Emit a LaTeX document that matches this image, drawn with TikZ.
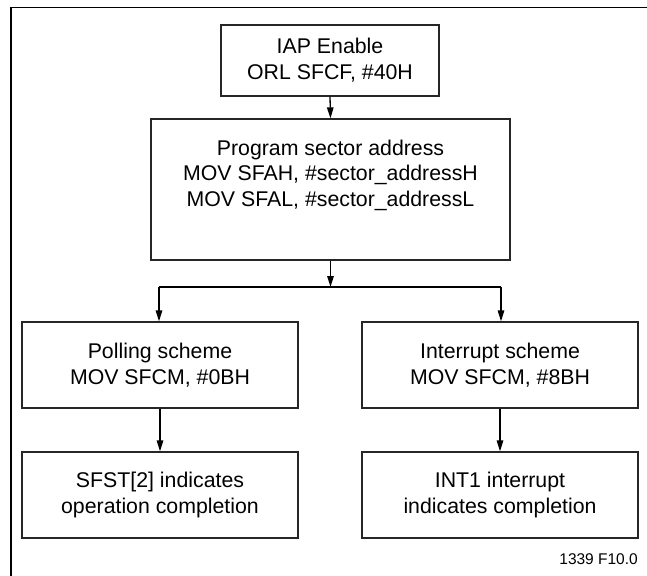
\documentclass[tikz,border=0pt]{standalone}
\usepackage{fontspec}
\setmainfont{Liberation Sans}
\usetikzlibrary{arrows.meta}
\begin{document}
\begin{tikzpicture}[x=1pt,y=-1pt,
  box/.style={draw=black!85,line width=1.3pt,inner sep=0pt,align=center,
    font=\fontsize{21.3}{25.8}\selectfont},
  arr/.style={line width=1.3pt,-{Triangle[length=11pt,width=6.5pt]}},
  ln/.style={line width=1.3pt}]
\useasboundingbox (0,0) rectangle (647,575);
\fill[white] (0,0) rectangle (647,575);
\draw[line width=1.8pt] (11,580) -- (11,7.5) -- (652,7.5);
\node[box,minimum width=218pt,minimum height=71pt] (iap) at (330,60.5)
  {IAP Enable\\ORL SFCF, \#40H};
\node[box,minimum width=359pt,minimum height=141pt] (prog) at (330.5,189.5)
  {Program sector address\\MOV SFAH, \#sector\_addressH\\MOV SFAL, \#sector\_addressL\\[7pt]};
\node[box,minimum width=276pt,minimum height=86pt] (poll) at (160,365)
  {Polling scheme\\MOV SFCM, \#0BH};
\node[box,minimum width=276pt,minimum height=86pt] (intr) at (500,365)
  {Interrupt scheme\\MOV SFCM, \#8BH};
\node[box,minimum width=276pt,minimum height=86pt] (sfst) at (160,495)
  {SFST[2] indicates\\operation completion};
\node[box,minimum width=276pt,minimum height=86pt] (int1) at (500,495)
  {INT1 interrupt\\indicates completion};
\node[anchor=base east,inner sep=0pt,font=\fontsize{15.5}{18}\selectfont] (fig) at (638,564) {1339 F10.0};
\coordinate (bl) at (159,287);
\coordinate (br) at (501,287);
\coordinate (bm) at (prog.south |- bl);
\draw[arr] (iap.south) -- (prog.north);
\draw[arr] (prog.south) -- (bm);
\draw[ln] (bl) -- (br);
\draw[arr] (bl) -- (bl |- poll.north);
\draw[arr] (br) -- (br |- intr.north);
\draw[arr] (poll.south) -- (sfst.north);
\draw[arr] (intr.south) -- (int1.north);
\end{tikzpicture}
\end{document}
